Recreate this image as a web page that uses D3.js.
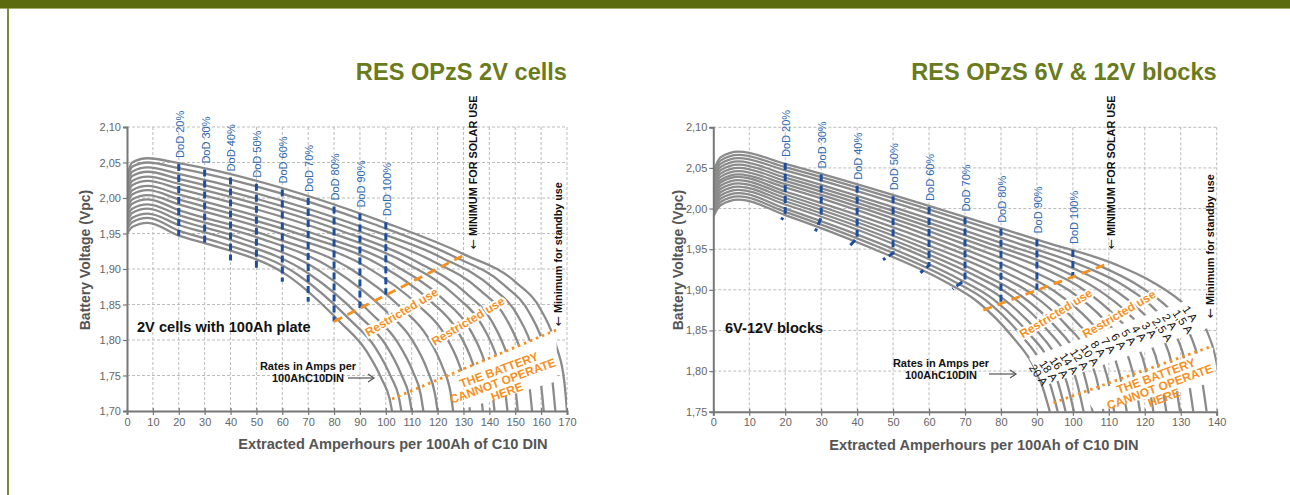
<!DOCTYPE html>
<html><head><meta charset="utf-8">
<script src="https://cdn.jsdelivr.net/npm/d3@7/dist/d3.min.js"></script>
<style>
body{margin:0;background:#fff;}
svg{display:block;font-family:"Liberation Sans",Arial,Helvetica,sans-serif;}
</style></head>
<body><svg id="c" width="1290" height="495"></svg>
<script>
// ---------------- DATA ----------------
const titles = ["RES OPzS 2V cells", "RES OPzS 6V & 12V blocks"];
const xTicks1 = [0,10,20,30,40,50,60,70,80,90,100,110,120,130,140,150,160,170];
const yTicks1 = [1.70,1.75,1.80,1.85,1.90,1.95,2.00,2.05,2.10];
const xTicks2 = [0,10,20,30,40,50,60,70,80,90,100,110,120,130,140];
const yTicks2 = [1.75,1.80,1.85,1.90,1.95,2.00,2.05,2.10];

// chart 1 discharge curves (Ah extracted, V per cell), lowest rate first
const curves1 = [
 [[0,2.030],[2,2.050],[8,2.056],[20,2.049],[100,1.965],[130,1.921],[150,1.882],[160,1.842],[166,1.790],[169,1.740],[170,1.700]],
 [[0,2.024],[2,2.044],[8,2.050],[20,2.042],[95.5,1.963],[125.5,1.919],[145.5,1.878],[155.5,1.838],[161.5,1.787],[164.5,1.738],[165.5,1.700]],
 [[0,2.019],[2,2.037],[8,2.043],[20,2.034],[91,1.959],[121,1.917],[141,1.874],[151,1.834],[157,1.784],[160,1.737],[161,1.700]],
 [[0,2.013],[2,2.031],[8,2.037],[20,2.027],[86.5,1.957],[116.5,1.914],[136.5,1.870],[146.5,1.830],[152.5,1.780],[155.5,1.735],[156.5,1.700]],
 [[0,2.007],[2,2.024],[8,2.030],[20,2.020],[81,1.956],[111,1.912],[131,1.866],[141,1.826],[147,1.777],[150,1.734],[151,1.700]],
 [[0,2.001],[2,2.018],[8,2.024],[20,2.013],[77,1.953],[107,1.910],[127,1.862],[137,1.822],[143,1.774],[146,1.732],[147,1.700]],
 [[0,1.996],[2,2.011],[8,2.017],[20,2.005],[72,1.950],[102,1.908],[122,1.858],[132,1.818],[138,1.771],[141,1.731],[142,1.700]],
 [[0,1.990],[2,2.005],[8,2.011],[20,1.998],[67.5,1.948],[97.5,1.906],[117.5,1.854],[127.5,1.814],[133.5,1.768],[136.5,1.729],[137.5,1.700]],
 [[0,1.984],[2,1.998],[8,2.004],[20,1.991],[62.5,1.946],[92.5,1.903],[112.5,1.849],[122.5,1.809],[128.5,1.764],[131.5,1.727],[132.5,1.700]],
 [[0,1.979],[2,1.992],[8,1.998],[20,1.983],[56,1.945],[86,1.901],[106,1.845],[116,1.805],[122,1.761],[125,1.726],[126,1.700]],
 [[0,1.973],[2,1.985],[8,1.991],[20,1.976],[50,1.945],[80,1.899],[100,1.841],[110,1.801],[116,1.758],[119,1.724],[120,1.700]],
 [[0,1.967],[2,1.979],[8,1.985],[20,1.969],[44.5,1.943],[74.5,1.897],[94.5,1.837],[104.5,1.797],[110.5,1.755],[113.5,1.723],[114.5,1.700]],
 [[0,1.961],[2,1.972],[8,1.978],[20,1.962],[40,1.941],[70,1.894],[90,1.833],[100,1.793],[106,1.751],[109,1.721],[110,1.700]],
 [[0,1.956],[2,1.966],[8,1.972],[20,1.954],[36,1.937],[66,1.892],[86,1.829],[96,1.789],[102,1.748],[105,1.720],[106,1.700]],
 [[0,1.950],[2,1.959],[8,1.965],[20,1.947],[32.4,1.934],[62.4,1.890],[82.4,1.825],[92.4,1.785],[98.4,1.745],[101.4,1.718],[102.4,1.700]]
];
// chart 2 discharge curves, 1 A first
const curves2 = [
 [[0,2.045],[2,2.063],[7,2.070],[20,2.055],[92,1.959],[112,1.931],[122,1.910],[132,1.878],[137,1.852],[140,1.810],[142,1.750]],
 [[0,2.041],[2,2.059],[7,2.066],[20,2.051],[87.2,1.960],[107.2,1.930],[117.2,1.908],[127.2,1.875],[132.2,1.849],[135.2,1.808],[137.2,1.750]],
 [[0,2.038],[2,2.055],[7,2.062],[20,2.047],[83.5,1.959],[103.5,1.928],[113.5,1.907],[123.5,1.873],[128.5,1.846],[131.5,1.806],[133.5,1.750]],
 [[0,2.034],[2,2.051],[7,2.058],[20,2.042],[79.8,1.958],[99.8,1.927],[109.8,1.905],[119.8,1.870],[124.8,1.844],[127.8,1.804],[129.8,1.750]],
 [[0,2.030],[2,2.047],[7,2.054],[20,2.038],[76,1.958],[96,1.926],[106,1.903],[116,1.868],[121,1.841],[124,1.802],[126,1.750]],
 [[0,2.027],[2,2.043],[7,2.050],[20,2.034],[72.4,1.958],[92.4,1.925],[102.4,1.902],[112.4,1.865],[117.4,1.838],[120.4,1.800],[122.4,1.750]],
 [[0,2.023],[2,2.039],[7,2.046],[20,2.030],[68.7,1.958],[88.7,1.923],[98.7,1.900],[108.7,1.863],[113.7,1.835],[116.7,1.798],[118.7,1.750]],
 [[0,2.019],[2,2.035],[7,2.042],[20,2.026],[65,1.958],[85,1.922],[95,1.898],[105,1.860],[110,1.832],[113,1.796],[115,1.750]],
 [[0,2.016],[2,2.032],[7,2.039],[20,2.021],[61.5,1.958],[81.5,1.921],[91.5,1.897],[101.5,1.858],[106.5,1.830],[109.5,1.794],[111.5,1.750]],
 [[0,2.012],[2,2.028],[7,2.035],[20,2.017],[58.5,1.957],[78.5,1.920],[88.5,1.895],[98.5,1.855],[103.5,1.827],[106.5,1.792],[108.5,1.750]],
 [[0,2.008],[2,2.024],[7,2.031],[20,2.013],[55.5,1.957],[75.5,1.918],[85.5,1.893],[95.5,1.853],[100.5,1.824],[103.5,1.790],[105.5,1.750]],
 [[0,2.005],[2,2.020],[7,2.027],[20,2.009],[53,1.956],[73,1.917],[83,1.892],[93,1.850],[98,1.821],[101,1.788],[103,1.750]],
 [[0,2.001],[2,2.016],[7,2.023],[20,2.005],[50.3,1.956],[70.3,1.916],[80.3,1.890],[90.3,1.848],[95.3,1.818],[98.3,1.786],[100.3,1.750]],
 [[0,1.997],[2,2.012],[7,2.019],[20,2.000],[48,1.954],[68,1.914],[78,1.888],[88,1.845],[93,1.816],[96,1.784],[98,1.750]],
 [[0,1.994],[2,2.008],[7,2.015],[20,1.996],[45.8,1.953],[65.8,1.913],[75.8,1.887],[85.8,1.843],[90.8,1.813],[93.8,1.782],[95.8,1.750]],
 [[0,1.990],[2,2.004],[7,2.011],[20,1.992],[43.6,1.952],[63.6,1.912],[73.6,1.885],[83.6,1.840],[88.6,1.810],[91.6,1.780],[93.6,1.750]]
];
const rateLabels2 = ["1 A","1,5 A","2 A","2,5 A","3 A","4 A","5 A","6 A","7 A","8 A","10 A","12 A","14 A","16 A","18 A","20 A"];
const rateLabelPos2 = [[131.3,1.879],[128.5,1.874],[125.6,1.869],[122.8,1.864],[119.9,1.859],[117.1,1.855],[114.2,1.850],[111.4,1.845],[108.5,1.840],[105.7,1.836],[102.8,1.831],[100.0,1.826],[97.1,1.821],[94.3,1.816],[91.4,1.812],[88.6,1.807]];

// DoD markers: polyline in data coords
const dodNames = ["DoD 20%","DoD 30%","DoD 40%","DoD 50%","DoD 60%","DoD 70%","DoD 80%","DoD 90%","DoD 100%"];
const dod1 = [
 [[20,2.048],[20,1.947]],[[30,2.040],[30,1.937]],[[40,2.029],[40,1.912]],[[50,2.020],[50,1.896]],
 [[60,2.012],[60,1.882]],[[70,2.000],[70,1.854]],[[80,1.988],[80,1.826]],[[90,1.978],[90,1.845]],[[100,1.966],[100,1.864]]
];
const dod2 = [
 [[20,2.056],[20,1.995],[19,1.986]],[[30,2.042],[30,1.989],[28.4,1.972]],[[40,2.028],[40,1.964],[37.7,1.953]],
 [[50,2.015],[50,1.945],[47.2,1.937]],[[60,2.002],[60,1.930],[57.6,1.921]],[[70,1.989],[70,1.912],[66.5,1.901]],
 [[80,1.975],[80,1.884]],[[90,1.962],[90,1.900]],[[100,1.949],[100,1.916]]
];
// boundary lines (solar minimum: dashed, standby minimum: dotted)
const solar1 = [[80,1.826],[131,1.921]];
const standby1 = [[102.4,1.717],[165.8,1.814]];
const solar2 = [[75.1,1.875],[110.3,1.933]];
const standby2 = [[94.6,1.761],[138.3,1.830]];
// masked zones (white) where curves are interrupted
const mask1 = [[[129,1.756],[166,1.815],[166,1.742],[131,1.704]]];
const mask2 = [[[87.8,1.816],[132.8,1.889],[137.5,1.853],[92,1.782]],
               [[103,1.770],[139,1.829],[139,1.786],[106,1.751]]];

// ---------------- DRAW ----------------
const svg = d3.select("#c");
const W = 1290, H = 495;
svg.append("rect").attr("x",0).attr("y",0).attr("width",W).attr("height",8).attr("fill","#5c6b0e");
svg.append("rect").attr("x",0).attr("y",8).attr("width",W).attr("height",1).attr("fill","#a3ad6c");
svg.append("rect").attr("x",7).attr("y",8).attr("width",2).attr("height",H-8).attr("fill","#7b8a36");

const ORANGE = "#f6901e", BLUE = "#1d4f9e", BLUE_T = "#2d69b2", GREY = "#8b8b8b";
const fmt = d => d.toFixed(2).replace(".", ",");

function chart(o){
  const x = d3.scaleLinear().domain(o.xDomain).range([o.left,o.right]);
  const y = d3.scaleLinear().domain(o.yDomain).range([o.bottom,o.top]);
  const g = svg.append("g");
  g.selectAll(".gx").data(o.xTicks.filter(d=>d>o.xDomain[0])).join("line")
    .attr("x1",d=>x(d)).attr("x2",d=>x(d)).attr("y1",o.top).attr("y2",o.bottom)
    .attr("stroke","#bcbcbc").attr("stroke-width",1).attr("stroke-dasharray","3,2");
  g.selectAll(".gy").data(o.yTicks.filter(d=>d>o.yDomain[0])).join("line")
    .attr("y1",d=>y(d)).attr("y2",d=>y(d)).attr("x1",o.left).attr("x2",o.right)
    .attr("stroke","#bcbcbc").attr("stroke-width",1).attr("stroke-dasharray","3,2");
  svg.append("clipPath").attr("id","cl"+o.id).append("rect")
    .attr("x",o.left).attr("y",o.top-10).attr("width",o.right-o.left).attr("height",o.bottom-o.top+10);
  const line = d3.line().x(d=>x(d[0])).y(d=>y(d[1])).curve(d3.curveMonotoneX);
  g.append("g").attr("clip-path",`url(#cl${o.id})`).selectAll("path").data(o.curves).join("path")
    .attr("d",line).attr("fill","none").attr("stroke",GREY).attr("stroke-width",2.3);
  const poly = d3.line().x(d=>x(d[0])).y(d=>y(d[1]));
  g.selectAll(".mask").data(o.masks).join("path").attr("d",d=>poly(d)+"Z").attr("fill","#fff");
  g.selectAll(".dod").data(o.dod).join("path").attr("d",poly).attr("fill","none")
    .attr("stroke",BLUE).attr("stroke-width",3).attr("stroke-dasharray","7,4");
  g.selectAll(".dodt").data(o.dod).join("text")
    .attr("transform",d=>`translate(${x(d[0][0])+1},${y(d[0][1])-6}) rotate(-90)`)
    .attr("dy","0.35em").attr("font-size",11).attr("fill",BLUE_T).text((d,i)=>dodNames[i]);
  g.append("path").attr("d",poly(o.solar)).attr("stroke",ORANGE).attr("stroke-width",2.8).attr("stroke-dasharray","9,6").attr("fill","none");
  g.append("path").attr("d",poly(o.standby)).attr("stroke",ORANGE).attr("stroke-width",2.8).attr("stroke-dasharray","2.5,4").attr("fill","none");
  const ax = g.append("g").attr("transform",`translate(0,${o.bottom})`)
    .call(d3.axisBottom(x).tickValues(o.xTicks).tickSize(4).tickPadding(3));
  const ay = g.append("g").attr("transform",`translate(${o.left},0)`)
    .call(d3.axisLeft(y).tickValues(o.yTicks).tickFormat(fmt).tickSize(4).tickPadding(2));
  [ax,ay].forEach(a=>{
    a.select(".domain").attr("stroke","#777").attr("stroke-width",2);
    a.selectAll(".tick line").attr("stroke","#777").attr("stroke-width",1.2);
    a.selectAll(".tick text").attr("fill","#666").attr("font-size",11).attr("font-family","Liberation Sans, Arial, sans-serif");
  });
  ax.selectAll(".tick line").attr("y1",-3);
  svg.append("text").attr("x",o.right).attr("y",80).attr("text-anchor","end")
    .attr("font-size",23.6).attr("font-weight","bold").attr("fill","#6a7b1c").text(o.title);
  svg.append("text").attr("transform",`translate(${o.yLabX},260) rotate(-90)`).attr("dy","0.35em")
    .attr("text-anchor","middle").attr("font-size",14).attr("font-weight","bold").attr("fill","#555")
    .text("Battery Voltage (Vpc)");
  svg.append("text").attr("x",o.xLabX).attr("y",o.bottom+38).attr("text-anchor","middle")
    .attr("font-size",14.6).attr("font-weight","bold").attr("fill","#555")
    .text("Extracted Amperhours per 100Ah of C10 DIN");
  return {x,y,g};
}

function vtext(g,pos,label){
  const t = g.append("text").attr("transform",`translate(${pos[0]},${pos[1]}) rotate(-90)`).attr("dy","0.35em")
    .attr("font-size",10.8).attr("font-weight","bold").attr("fill","#111");
  t.append("tspan").attr("font-family","DejaVu Sans").attr("font-weight","normal").attr("font-size",12).text("\u2190");
  t.append("tspan").text(" "+label);
}

function annot(c,o){
  const g = c.g;
  g.append("text").attr("x",o.subX).attr("y",o.subY).attr("font-size",14.6).attr("font-weight","bold").attr("fill","#111").text(o.sub);
  const r = g.append("text").attr("font-size",11).attr("font-weight","bold").attr("fill","#111").attr("text-anchor","middle");
  r.append("tspan").attr("x",o.rateX).attr("y",o.rateY).text("Rates in Amps per");
  r.append("tspan").attr("x",o.rateX).attr("y",o.rateY+12).text("100AhC10DIN");
  g.append("line").attr("x1",o.arrow[0]).attr("x2",o.arrow[1]).attr("y1",o.arrow[2]).attr("y2",o.arrow[2]).attr("stroke","#555").attr("stroke-width",1.2);
  g.append("path").attr("d",`M${o.arrow[1]-6},${o.arrow[2]-4}L${o.arrow[1]},${o.arrow[2]}L${o.arrow[1]-6},${o.arrow[2]+4}`).attr("fill","none").attr("stroke","#555").attr("stroke-width",1.2);
  vtext(g,o.solarT,"MINIMUM FOR SOLAR USE");
  vtext(g,o.standT,"Minimum for standby use");
  o.restr.forEach(p=>{
    g.append("text").attr("transform",`translate(${p[0]},${p[1]}) rotate(${p[2]})`).attr("text-anchor","middle").attr("dy","0.35em")
      .attr("font-size",12).attr("font-weight","bold").attr("fill",ORANGE)
      .attr("stroke","#fff").attr("stroke-width",4).attr("paint-order","stroke").text("Restricted use");
  });
  const t = g.append("text").attr("transform",`translate(${o.cant[0]},${o.cant[1]}) rotate(-20)`).attr("text-anchor","middle")
    .attr("font-size",12).attr("font-weight","bold").attr("fill",ORANGE);
  ["THE BATTERY","CANNOT OPERATE","HERE"].forEach((s,i)=>t.append("tspan").attr("x",0).attr("y",(i-1)*11.5+4).text(s));
}

const c1 = chart({id:1,left:127,right:567,top:127,bottom:411,xDomain:[0,170],yDomain:[1.70,2.10],yLabX:85,xLabX:393,
  xTicks:xTicks1,yTicks:yTicks1,curves:curves1,masks:mask1,dod:dod1,solar:solar1,standby:standby1,title:titles[0]});
annot(c1,{sub:"2V cells with 100Ah plate",subX:137,subY:332,rateX:308,rateY:370,arrow:[348,374,378],
  solarT:[473,249],standT:[558,326],restr:[[401.5,312,-31],[468,321,-31]],cant:[503,381]});

const c2 = chart({id:2,left:713.3,right:1216.7,top:127.3,bottom:411.7,xDomain:[0,140],yDomain:[1.75,2.10],yLabX:678,xLabX:984,
  xTicks:xTicks2,yTicks:yTicks2,curves:curves2,masks:mask2,dod:dod2,solar:solar2,standby:standby2,title:titles[1]});
annot(c2,{sub:"6V-12V blocks",subX:725,subY:333,rateX:941,rateY:367,arrow:[989,1016,374],
  solarT:[1111.7,249],standT:[1210,318],restr:[[1055.8,313.3,-31.5],[1119,314,-30.5]],cant:[1160,387]});
c2.g.selectAll(".rate").data(rateLabels2).join("text")
  .attr("transform",(d,i)=>`translate(${c2.x(rateLabelPos2[i][0])},${c2.y(rateLabelPos2[i][1])}) rotate(55)`)
  .attr("dy","0.35em").attr("font-size",11.5).attr("fill","#111").text(d=>d);
</script></body></html>
